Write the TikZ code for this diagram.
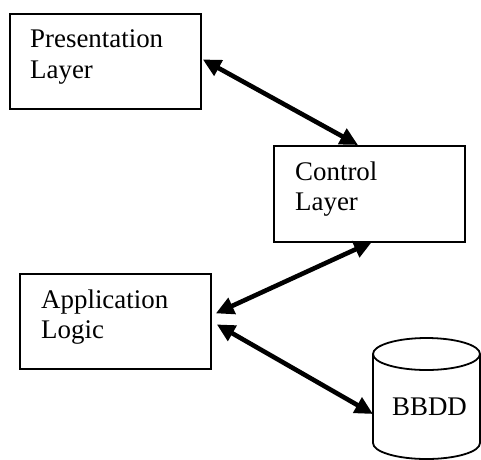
\documentclass[tikz,border=0pt]{standalone}
\usepackage{fontspec}
\setmainfont{Liberation Serif}
\usetikzlibrary{arrows.meta}
\tikzset{
  layerbox/.style={draw, line width=1.8pt, rectangle, inner sep=0pt, anchor=north west},
  lbl/.style={anchor=base west, inner sep=0pt, font=\fontsize{26.9}{31}\selectfont},
  link/.style={line width=4.6pt, {Triangle[length=18pt,width=17pt]}-{Triangle[length=18pt,width=17pt]}}
}
\begin{document}
\begin{tikzpicture}[x=1pt,y=-1pt]
  \useasboundingbox (0,0) rectangle (481,459);

  % layer boxes
  \node[layerbox, minimum width=191pt, minimum height=95pt] (pres) at (9,13) {};
  \node[layerbox, minimum width=191pt, minimum height=96pt] (ctrl) at (273,145) {};
  \node[layerbox, minimum width=191pt, minimum height=95pt] (app) at (19,273) {};

  % box captions
  \node[lbl] (presA) at (30,47) {Presentation};
  \node[lbl] (presB) at (30,78) {Layer};
  \node[lbl] (ctrlA) at (295,180) {Control};
  \node[lbl] (ctrlB) at (295,210) {Layer};
  \node[lbl] (appA) at (41,308) {Application};
  \node[lbl] (appB) at (41,338) {Logic};

  % database cylinder
  \draw[line width=1.8pt] (373,354) -- (373,443)
        arc[start angle=180, end angle=0, x radius=53.5, y radius=16] -- (480,354);
  \draw[line width=1.8pt] (426.5,354) ellipse[x radius=53.5, y radius=16];
  \coordinate (dbleft) at (373,414);
  \node[anchor=base, inner sep=0pt, font=\fontsize{26.9}{31}\selectfont] (db) at (429.5,415) {BBDD};

  % connectors
  \draw[link] ([xshift=1pt,yshift=2pt]pres.east) -- ([xshift=85pt]ctrl.north west);
  \draw[link] ([xshift=99pt,yshift=1pt]ctrl.south west) -- ([xshift=4pt,yshift=8pt]app.east);
  \draw[link] ([xshift=5pt,yshift=-3pt]app.east) -- (dbleft);
\end{tikzpicture}
\end{document}
